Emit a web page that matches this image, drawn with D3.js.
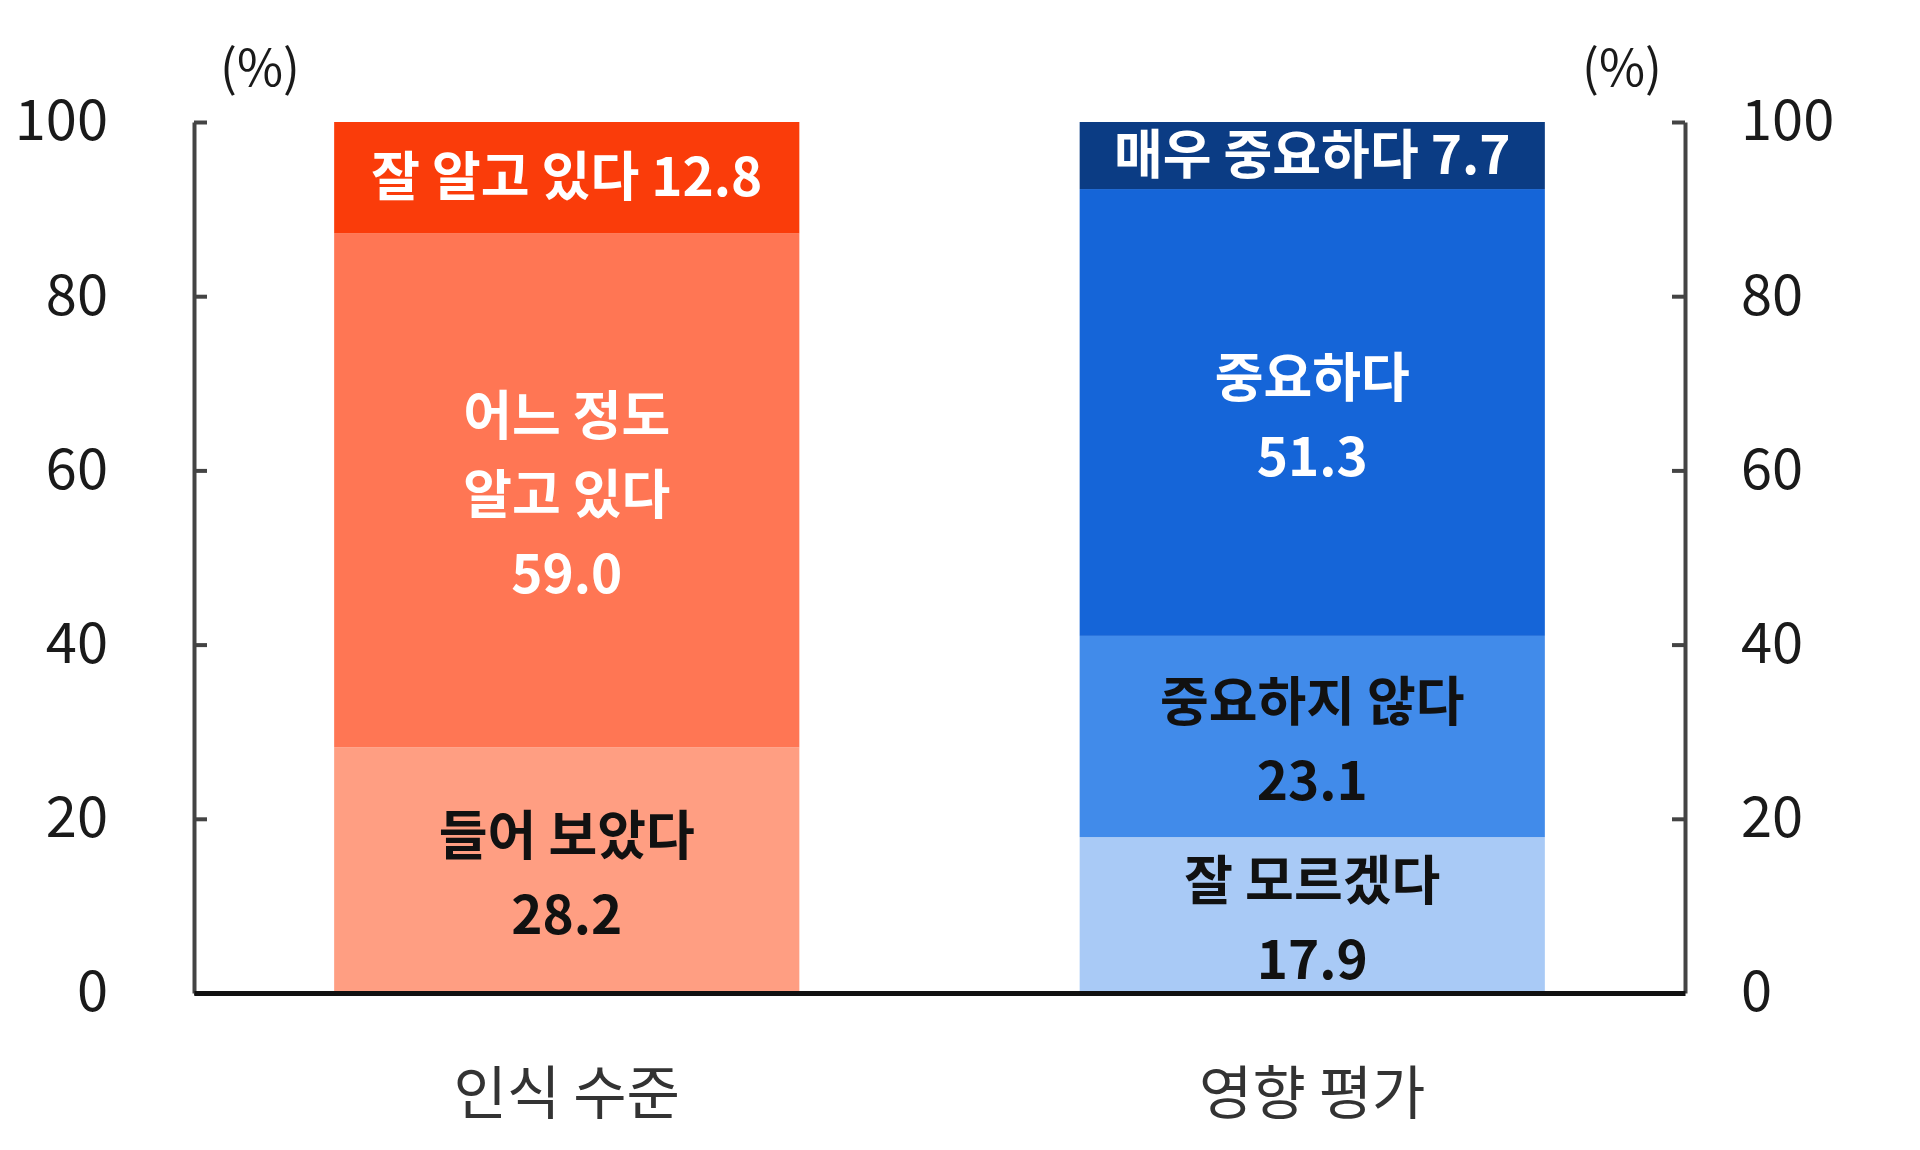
<!DOCTYPE html>
<html>
<head>
<meta charset="utf-8">
<script src="https://cdn.jsdelivr.net/npm/d3@7"></script>
<style>
  body { margin: 0; background: #fff; }
  svg text { font-family: "Noto Sans CJK KR", "Noto Sans", sans-serif; }
</style>
</head>
<body>
<svg id="chart" width="1920" height="1150"></svg>
<script>
// data
var categories = ["인식 수준", "영향 평가"];
var awarenessLabels = ["들어 보았다", "어느 정도\n알고 있다", "잘 알고 있다"];
var awarenessValues = [28.2, 59.0, 12.8];
var impactLabels = ["잘 모르겠다", "중요하지 않다", "중요하다", "매우 중요하다"];
var impactValues = [17.9, 23.1, 51.3, 7.7];
var yTicks = [0, 20, 40, 60, 80, 100];

// styles
var awarenessColors = ["#FF9E82", "#FF7654", "#FA3C0A"];
var awarenessText = ["#111", "#fff", "#fff"];
var impactColors = ["#A9CAF6", "#418BEA", "#1565D8", "#0B3C84"];
var impactText = ["#111", "#111", "#fff", "#fff"];

var plotLeft = 194, plotRight = 1685, plotTop = 122, plotBottom = 993;

var svg = d3.select("#chart");

var xScale = d3.scaleBand()
    .domain(categories)
    .range([plotLeft, plotRight])
    .paddingInner(0.376)
    .paddingOuter(0.188);

var yScale = d3.scaleLinear()
    .domain([0, 100])
    .range([plotBottom, plotTop]);

// build stacked segments for each bar
function stackSegments(cat, labels, values, fills, inks)
{
    var acc = 0;
    return values.map(function(v, i)
    {
        var seg = { cat: cat, label: labels[i], value: v, y0: acc, y1: acc + v, fill: fills[i], ink: inks[i] };
        acc += v;
        return seg;
    });
}

var segments = stackSegments(categories[0], awarenessLabels, awarenessValues, awarenessColors, awarenessText)
    .concat(stackSegments(categories[1], impactLabels, impactValues, impactColors, impactText));

svg.append("g").selectAll("rect")
    .data(segments)
    .enter().append("rect")
    .attr("x", function(d) { return xScale(d.cat); })
    .attr("width", xScale.bandwidth())
    .attr("y", function(d) { return yScale(d.y1); })
    .attr("height", function(d) { return yScale(d.y0) - yScale(d.y1); })
    .style("fill", function(d) { return d.fill; });

// segment labels: thin segments get the value on the same line
var lineH = 79;
svg.append("g").selectAll("text")
    .data(segments)
    .enter().append("text")
    .attr("text-anchor", "middle")
    .attr("font-size", 53)
    .attr("font-weight", "bold")
    .style("fill", function(d) { return d.ink; })
    .each(function(d)
    {
        var lines = d.label.split("\n");
        var val = d.value.toFixed(1);
        if (d.value < 15) lines[lines.length - 1] += " " + val;
        else lines.push(val);
        var cx = xScale(d.cat) + xScale.bandwidth() / 2;
        var cy = (yScale(d.y0) + yScale(d.y1)) / 2 + (lines.length > 1 ? 1 : -5);
        var startY = cy - (lines.length - 1) * lineH / 2;
        var t = d3.select(this);
        lines.forEach(function(l, i)
        {
            t.append("tspan")
                .attr("x", cx)
                .attr("y", startY + i * lineH)
                .attr("dominant-baseline", "central")
                .text(l);
        });
    });

// axes
var yAxisL = d3.axisLeft(yScale).tickValues(yTicks).tickSizeInner(-13).tickSizeOuter(0).tickPadding(86);
var yAxisR = d3.axisRight(yScale).tickValues(yTicks).tickSizeInner(-13).tickSizeOuter(0).tickPadding(56);
var xAxis = d3.axisBottom(xScale).tickSize(0).tickPadding(80);

function styleAxis(g, w, c)
{
    g.select(".domain").attr("stroke", c).attr("stroke-width", w);
    g.selectAll(".tick line").attr("stroke", c).attr("stroke-width", w);
    g.selectAll(".tick text")
        .attr("font-size", 56)
        .attr("font-family", "'Noto Sans CJK KR', sans-serif")
        .style("fill", "#1a1a1a");
}

svg.append("g")
    .attr("transform", "translate(" + plotLeft + ",0)")
    .call(yAxisL)
    .call(styleAxis, 4, "#444");

svg.append("g")
    .attr("transform", "translate(" + plotRight + ",0)")
    .call(yAxisR)
    .call(styleAxis, 4, "#444");

svg.append("g")
    .attr("transform", "translate(0," + plotBottom + ")")
    .call(xAxis)
    .call(styleAxis, 5, "#111")
    .selectAll(".tick text")
    .attr("font-size", 58)
    .style("fill", "#333");

// unit labels
svg.append("text")
    .attr("x", plotLeft + 66).attr("y", 64)
    .attr("text-anchor", "middle").attr("dominant-baseline", "central")
    .attr("font-size", 50).style("fill", "#1a1a1a")
    .text("(%)");

svg.append("text")
    .attr("x", plotRight - 63).attr("y", 64)
    .attr("text-anchor", "middle").attr("dominant-baseline", "central")
    .attr("font-size", 50).style("fill", "#1a1a1a")
    .text("(%)");
</script>
</body>
</html>
